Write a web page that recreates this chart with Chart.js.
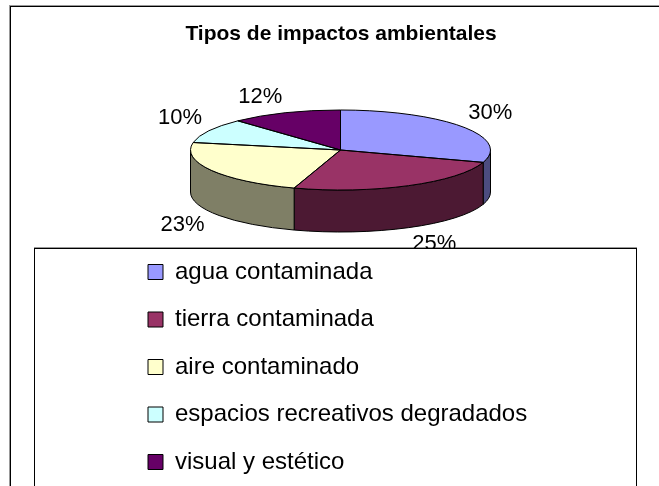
<!DOCTYPE html>
<html>
<head>
<meta charset="utf-8">
<title>Tipos de impactos ambientales</title>
<script src="https://cdn.jsdelivr.net/npm/chart.js@4.4.1/dist/chart.umd.min.js"></script>
<style>
  html, body { margin: 0; padding: 0; background: #fff; overflow: hidden; }
  canvas { display: block; }
</style>
</head>
<body>
<canvas id="pie" width="659" height="560"></canvas>
<script>
// values
const categories = ['agua contaminada', 'tierra contaminada', 'aire contaminado',
                    'espacios recreativos degradados', 'visual y estético'];
const shares = [30, 25, 23, 10, 12];
const sliceColors = ['#9999FF', '#993366', '#FFFFCC', '#CCFFFF', '#660066'];

// where the flattened (3D looking) pie sits
const CX = 340.5, CY = 150, RX = 150, RY = 40, DEPTH = 42;
const BOX_TOP = 248;

Chart.defaults.font.family = '"Liberation Sans", Arial, sans-serif';
Chart.defaults.color = '#000';

function darker(hex) {
    const n = parseInt(hex.slice(1), 16);
    return `rgb(${(n >> 16) >> 1},${((n >> 8) & 255) >> 1},${(n & 255) >> 1})`;
}

// white page, outer frame and the legend box
const frame = {
    id: 'frame',
    afterLayout(chart) {
        // the legend column is narrow, let its text run past it
        const lg = chart.legend;
        lg.width = 500;
        lg.right = lg.left + 500;
    },
    beforeDraw(chart) {
        const ctx = chart.ctx, w = chart.width, h = chart.height;
        ctx.save();
        ctx.fillStyle = '#fff';
        ctx.fillRect(0, 0, w, h);
        ctx.fillStyle = '#999';
        ctx.fillRect(9, 5, w - 9, 1);
        ctx.fillRect(9, 5, 1, h);
        ctx.fillStyle = '#000';
        ctx.fillRect(10, 6, w - 10, 1);
        ctx.fillRect(10, 6, 1, h);
        // legend box
        ctx.fillStyle = '#999';
        ctx.fillRect(34, BOX_TOP - 1, 603, 1);
        ctx.fillStyle = '#000';
        ctx.fillRect(34, BOX_TOP, 603, 1);
        ctx.fillRect(34, BOX_TOP, 1, h);
        ctx.fillRect(636, BOX_TOP, 1, h);
        ctx.restore();
    }
};

const pie3d = {
    id: 'pie3d',
    beforeDatasetsDraw(chart) {
        const ctx = chart.ctx;
        const arcs = chart.getDatasetMeta(0).data;
        // side walls: only the front half (0..PI) can be seen
        ctx.save();
        ctx.strokeStyle = '#000';
        ctx.lineWidth = 1;
        arcs.forEach((arc, i) => {
            const s = Math.max(arc.startAngle, 0);
            const e = Math.min(arc.endAngle, Math.PI);
            if (e <= s) return;
            ctx.beginPath();
            ctx.ellipse(CX, CY, RX, RY, 0, s, e);
            ctx.ellipse(CX, CY + DEPTH, RX, RY, 0, e, s, true);
            ctx.closePath();
            ctx.fillStyle = darker(sliceColors[i]);
            ctx.fill();
            ctx.stroke();
        });
        ctx.restore();
        // squash the round pie into the top ellipse
        const a = arcs[0];
        ctx.save();
        ctx.translate(CX, CY);
        ctx.scale(RX / a.outerRadius, RY / a.outerRadius);
        ctx.translate(-a.x, -a.y);
    },
    afterDatasetsDraw(chart) {
        const ctx = chart.ctx;
        ctx.restore();
        const arcs = chart.getDatasetMeta(0).data;
        ctx.save();
        ctx.strokeStyle = '#000';
        ctx.lineWidth = 1;
        arcs.forEach(arc => {
            ctx.beginPath();
            ctx.moveTo(CX, CY);
            ctx.ellipse(CX, CY, RX, RY, 0, arc.startAngle, arc.endAngle);
            ctx.closePath();
            ctx.stroke();
        });
        // percentages, cut off where the legend box begins
        ctx.beginPath();
        ctx.rect(0, 0, chart.width, BOX_TOP);
        ctx.clip();
        ctx.font = '22px "Liberation Sans", Arial, sans-serif';
        ctx.fillStyle = '#000';
        ctx.textAlign = 'center';
        ctx.textBaseline = 'middle';
        arcs.forEach((arc, i) => {
            const m = (arc.startAngle + arc.endAngle) / 2;
            const c = Math.cos(m), s = Math.sin(m);
            const text = shares[i] + '%';
            const hw = ctx.measureText(text).width / 2;
            const x = CX + (RX + 8) * c + Math.sign(c) * hw;
            const y = CY + (RY + 9) * s + (s > 0 ? DEPTH : 0) + Math.sign(s) * 8;
            ctx.fillText(text, x, y);
        });
        ctx.restore();
    }
};

new Chart(document.getElementById('pie'), {
    type: 'pie',
    data: {
        labels: categories,
        datasets: [{
            data: shares,
            backgroundColor: sliceColors,
            borderWidth: 0,
            clip: false
        }]
    },
    options: {
        responsive: false,
        animation: false,
        devicePixelRatio: 1,
        events: [],
        layout: { padding: { left: 124.5, right: 101.5, top: 0, bottom: 0 } },
        plugins: {
            title: {
                display: true,
                text: 'Tipos de impactos ambientales',
                color: '#000',
                font: { size: 21, weight: 'bold' },
                padding: { top: 22, bottom: 189.3 }
            },
            legend: {
                position: 'left',
                align: 'start',
                fullSize: false,
                labels: {
                    color: '#000',
                    font: { size: 24 },
                    boxWidth: 15,
                    boxHeight: 15,
                    padding: 23.5,
                    generateLabels(chart) {
                        return Chart.overrides.doughnut.plugins.legend.labels.generateLabels(chart)
                            .map(l => ({ ...l, lineWidth: 1, strokeStyle: '#000' }));
                    }
                }
            },
            tooltip: { enabled: false }
        }
    },
    plugins: [frame, pie3d]
});
</script>
</body>
</html>
